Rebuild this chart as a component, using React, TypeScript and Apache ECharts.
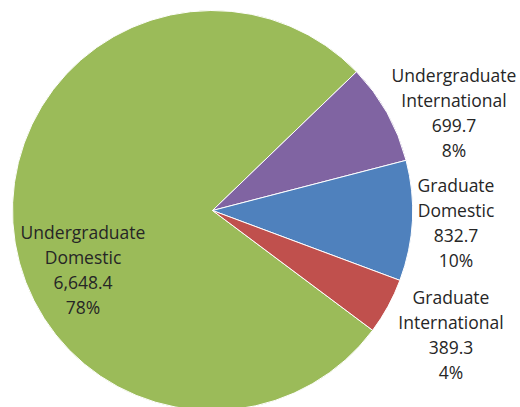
import React, { useEffect, useRef } from "react";
import * as echarts from "echarts";

const categories = [
  "Undergraduate\nDomestic",
  "Undergraduate\nInternational",
  "Graduate\nDomestic",
  "Graduate\nInternational",
];
const values = [6648.4, 699.7, 832.7, 389.3];
const valueLabels = ["6,648.4", "699.7", "832.7", "389.3"];
const percentLabels = ["78%", "8%", "10%", "4%"];
const colors = ["#9BBB59", "#8064A2", "#4F81BD", "#C0504D"];
// label centres (layout, px)
const labelCenters: [number, number][] = [
  [83, 269],
  [454, 112],
  [456, 222],
  [451, 334],
];

export default function App() {
  const ref = useRef<HTMLDivElement>(null);
  useEffect(() => {
    if (!ref.current) return;
    const chart = echarts.init(ref.current, undefined, { renderer: "svg" });
    chart.setOption({
      animation: false,
      series: [
        {
          type: "pie",
          center: [212.5, 210.5],
          radius: 200,
          startAngle: -36.8,
          clockwise: true,
          data: categories.map((name, i) => ({
            name,
            value: values[i],
            itemStyle: { color: colors[i] },
          })),
          itemStyle: { borderColor: "#ffffff", borderWidth: 1 },
          label: {
            show: true,
            position: "inside",
            formatter: (p: any) =>
              `${p.name}\n${valueLabels[p.dataIndex]}\n${percentLabels[p.dataIndex]}`,
            fontFamily: "Open Sans",
            fontSize: 17.5,
            lineHeight: 25,
            color: "#262626",
            align: "center",
          },
          labelLine: { show: false },
          labelLayout: (params: any) => {
            const c = labelCenters[params.dataIndex];
            return { x: c[0], y: c[1], align: "center", verticalAlign: "middle" };
          },
          emphasis: { disabled: true },
        },
      ],
    });
    return () => chart.dispose();
  }, []);
  return (
    <div
      ref={ref}
      style={{ position: "fixed", left: 0, top: 0, width: 520, height: 407, background: "#fff" }}
    />
  );
}
